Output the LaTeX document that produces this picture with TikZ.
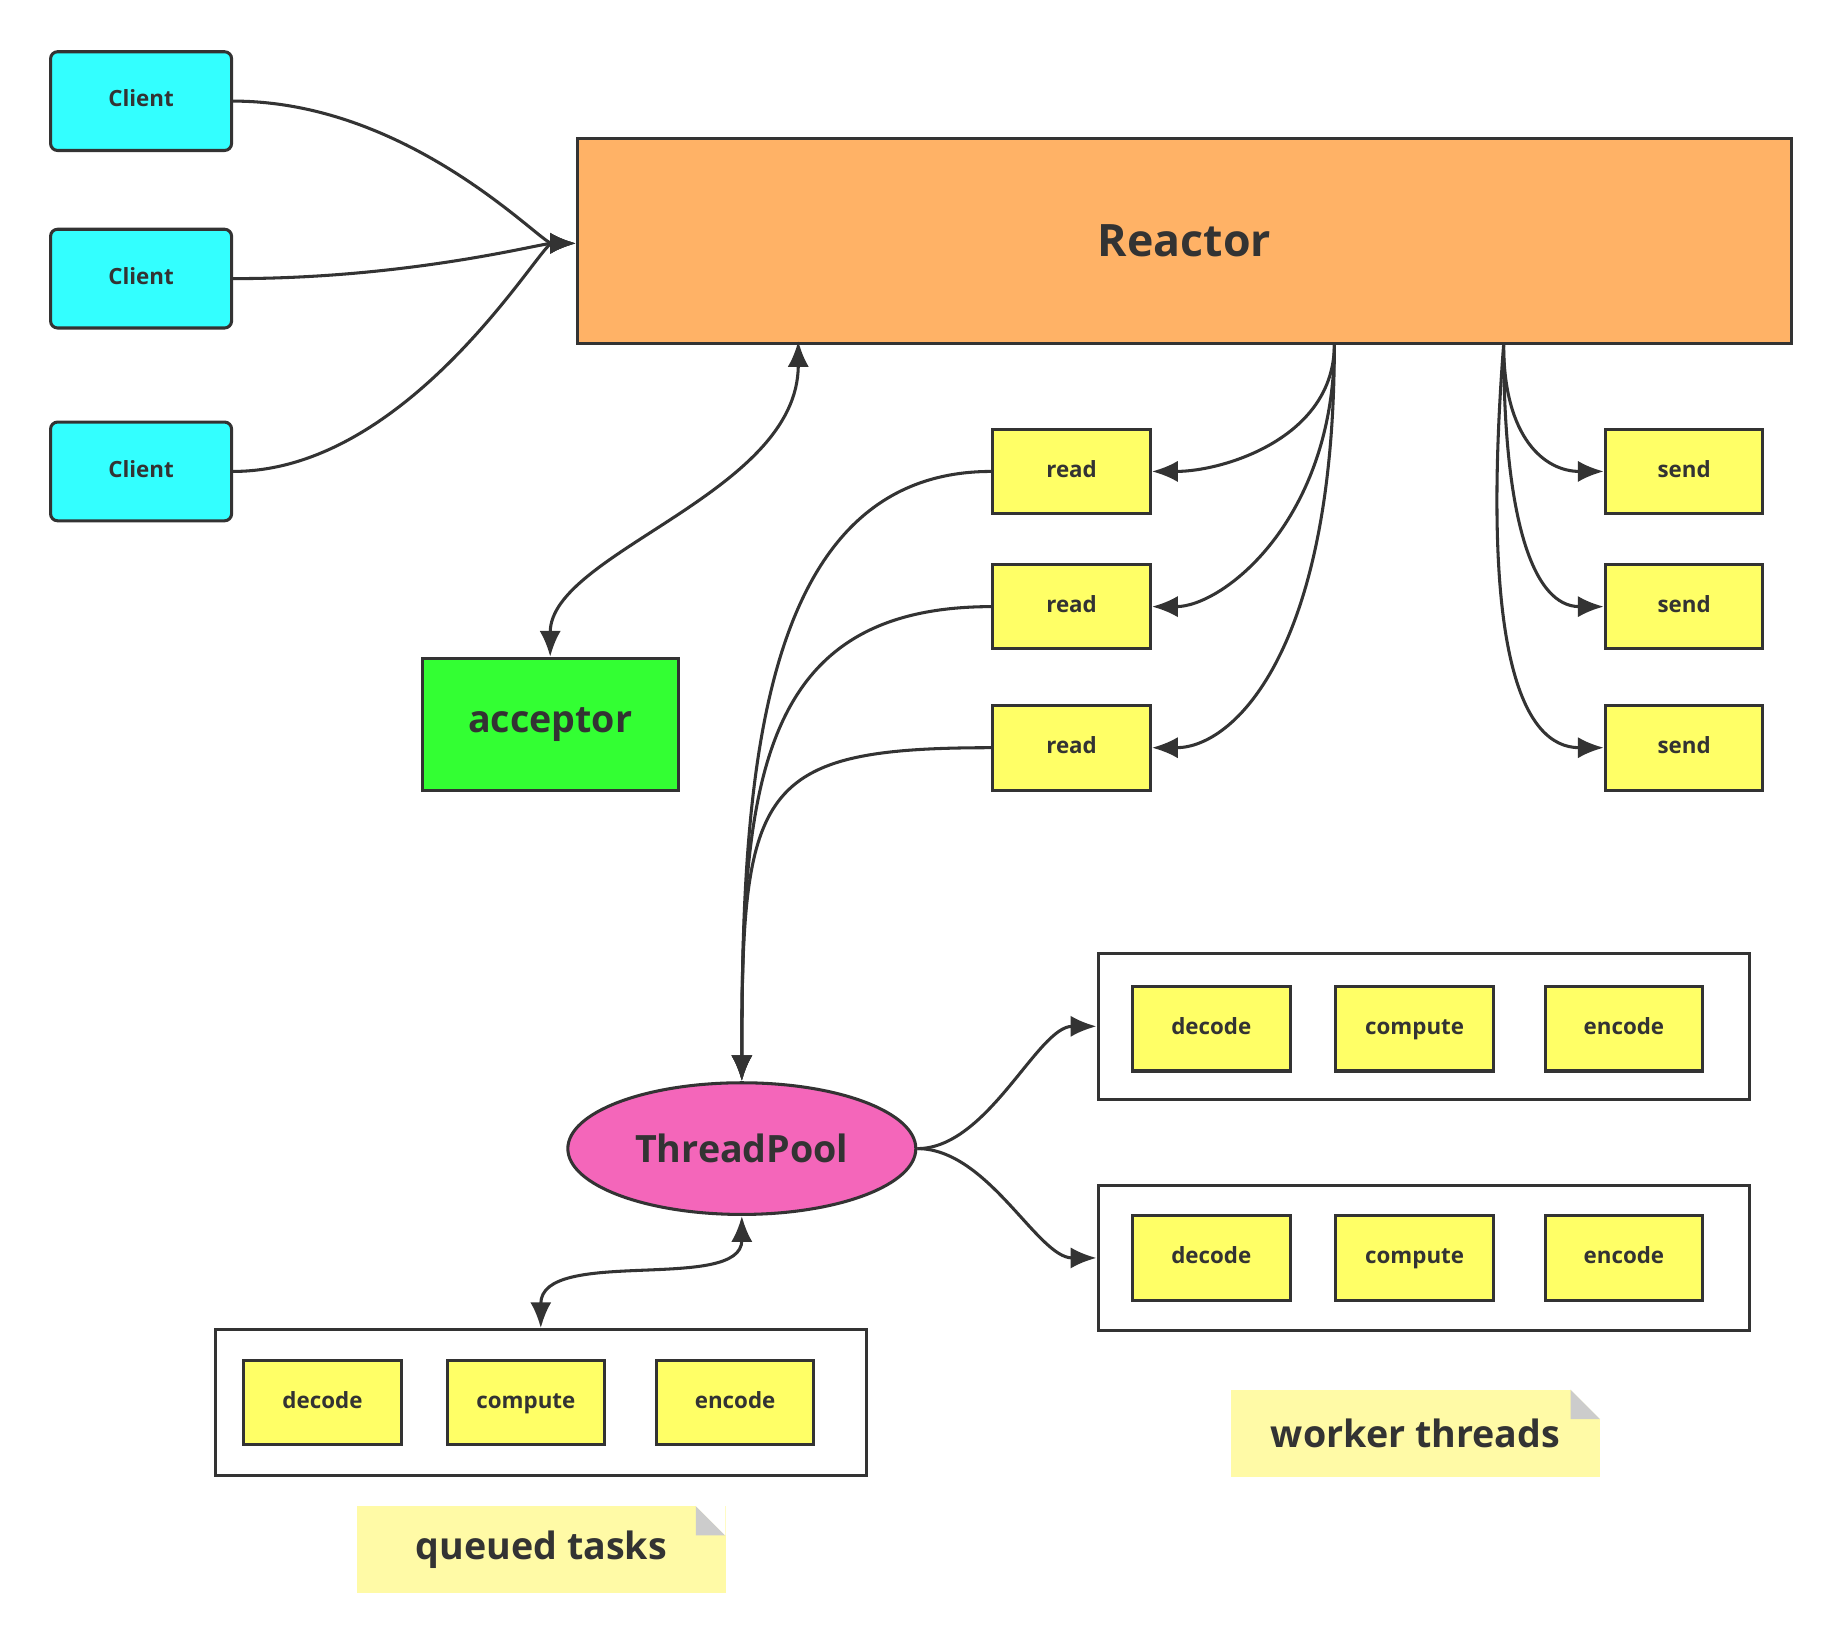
\documentclass[tikz,border=0pt]{standalone}
\usepackage{fontspec}
\setmainfont{Open Sans}
\usetikzlibrary{arrows.meta,shapes.geometric}
\definecolor{ink}{HTML}{333333}
\begin{document}
\begin{tikzpicture}[x=0.5pt,y=-0.5pt,
 every node/.style={text=ink},
 sm/.style={font=\fontsize{9.5}{12}\selectfont\bfseries,text height=7pt,text depth=2pt},
 bx/.style={sm,draw=ink,line width=1.3pt,fill=#1,minimum width=67pt,minimum height=36pt,inner sep=0pt},
 cli/.style={bx=cyan!80!white,rounded corners=3pt,minimum width=77pt,minimum height=42pt},
 yb/.style={bx={yellow!60!white}},
 big/.style={font=\fontsize{#1}{20}\selectfont\bfseries},
 outer/.style={draw=ink,line width=1.3pt,minimum width=277pt,minimum height=62pt,inner sep=0pt},
 note/.style={fill={yellow!35!white},minimum width=157pt,minimum height=37pt,inner sep=0pt,big=16},
 ar/.style={draw=ink,line width=1.3pt,-{Latex[length=11pt,width=9pt]}},
 dar/.style={draw=ink,line width=1.3pt,{Latex[length=11pt,width=9pt]}-{Latex[length=11pt,width=9pt]}}]
\useasboundingbox (0,0) rectangle (1560,1391);
\definecolor{cy}{HTML}{33FFFF}\definecolor{yl}{HTML}{FFFF66}
\node[cli,fill=cy] (c1) at (120,86) {Client};
\node[cli,fill=cy] (c2) at (120,237) {Client};
\node[cli,fill=cy] (c3) at (120,401) {Client};
\node[draw=ink,line width=1.3pt,fill={orange!60!white},minimum width=516pt,minimum height=87pt,inner sep=0pt,big=19] (re) at (1007.5,205) {Reactor};
\node[draw=ink,line width=1.3pt,fill={green!80!white},minimum width=109pt,minimum height=56pt,inner sep=0pt,big=16] (ac) at (468,616) {acceptor};
\foreach \i/\y in {1/401,2/516,3/636}{
 \node[yb,fill=yl] (r\i) at (911.5,\y) {read};
 \node[yb,fill=yl] (s\i) at (1432.5,\y) {send};}
\node[ellipse,draw=ink,line width=1.3pt,fill={magenta!60!white},minimum width=148pt,minimum height=56pt,inner sep=0pt,big=16] (tp) at (631,977) {ThreadPool};
\node[outer] (w1) at (1211,873) {};
\node[outer] (w2) at (1211,1070) {};
\node[outer] (q) at (460,1193) {};
\foreach \n/\y/\a/\b/\c in {w1/875/962/1135/1313, w2/1070/962/1135/1313, q/1193/206/379/557}{
 \node[yb,fill=yl,anchor=west] (\n d) at (\a,\y) {decode};
 \node[yb,fill=yl,anchor=west] (\n c) at (\b,\y) {compute};
 \node[yb,fill=yl,anchor=west] (\n e) at (\c,\y) {encode};}
\node[note] (nw) at (1204,1219) {worker threads};
\fill[gray!40] (1336,1182) -- (1361,1207) -- (1336,1207) -- cycle;
\fill[white] (1336,1182) -- (1361,1182) -- (1361,1207) -- cycle;
\node[note] (nq) at (460.5,1318) {queued tasks};
\fill[gray!40] (592,1281) -- (617,1306) -- (592,1306) -- cycle;
\fill[white] (592,1281) -- (617,1281) -- (617,1306) -- cycle;
\coordinate (rin) at (490,207);
\foreach \c in {c1,c2,c3} \draw[ar] (\c.east) .. controls +(150,0) and +(-30,0) .. (rin);
\coordinate (ra) at (679,290);
\draw[dar] (ac.north) .. controls (468,470) and (679,420) .. (ra);
\coordinate (rb) at (1135,293);
\draw[ar] (rb) .. controls +(0,80) and +(60,0) .. (r1.east);
\draw[ar] (rb) .. controls +(0,150) and +(60,0) .. (r2.east);
\draw[ar] (rb) .. controls +(0,260) and +(70,0) .. (r3.east);
\coordinate (rs) at (1279,293);
\draw[ar] (rs) .. controls +(0,80) and +(-50,0) .. (s1.west);
\draw[ar] (rs) .. controls +(0,150) and +(-60,0) .. (s2.west);
\draw[ar] (rs) .. controls +(-20,260) and +(-70,0) .. (s3.west);
\foreach \i in {1,2,3} \draw[ar] (r\i.west) .. controls +(-200,0) and +(0,-250) .. (tp.north);
\foreach \w in {w1,w2} \draw[ar] (tp.east) .. controls +(60,0) and +(-50,0) .. (\w.west);
\draw[dar] (q.north) .. controls (460,1060) and (631,1100) .. (tp.south);
\end{tikzpicture}
\end{document}
